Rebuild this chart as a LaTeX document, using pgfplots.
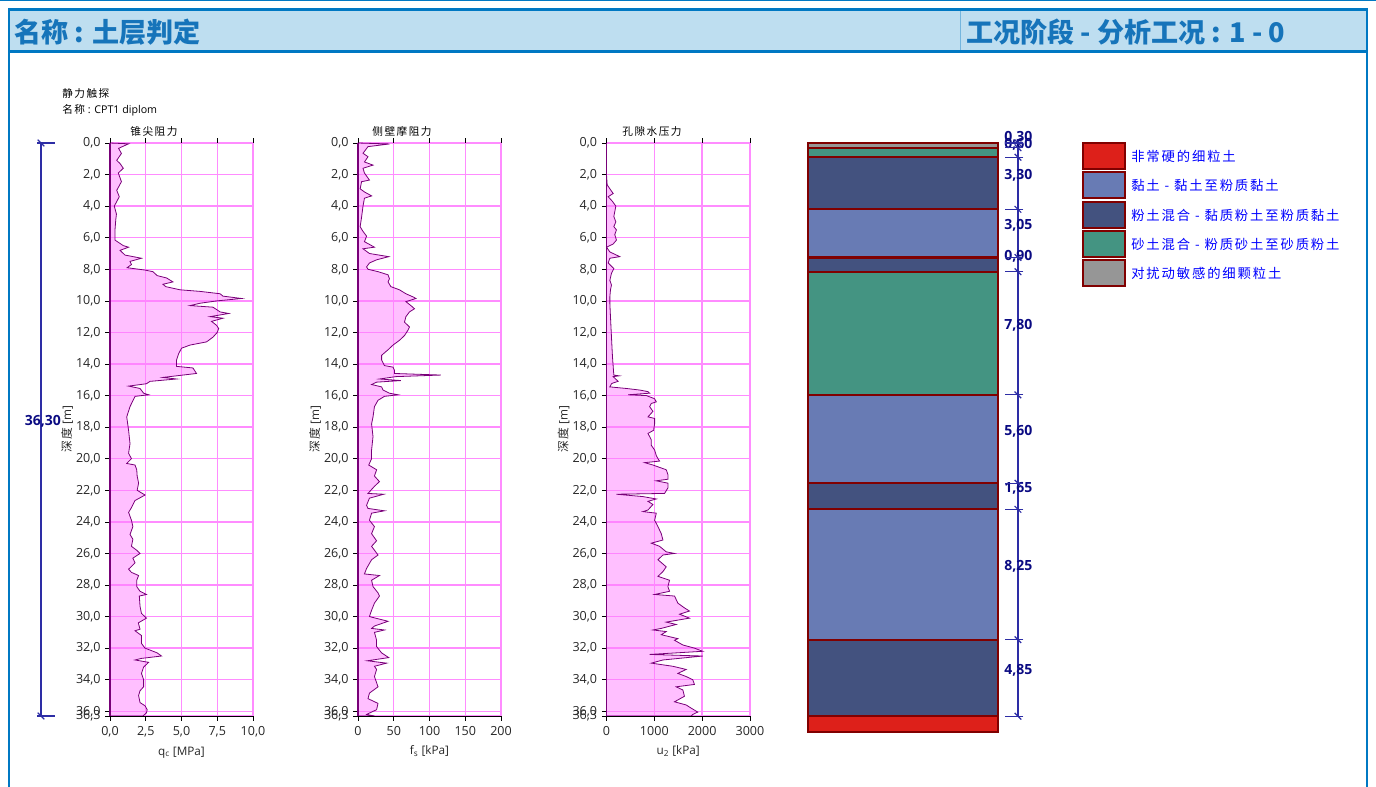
\documentclass[border=0pt]{standalone}
\usepackage{fontspec}
\setmainfont{Open Sans}
\newfontfamily\cjk{Noto Sans CJK SC}
\newfontfamily\cjkls[LetterSpace=14]{Noto Sans CJK SC}
\usepackage{pgfplots}
\pgfplotsset{compat=1.18}
\usepackage{pgfplotstable}

\definecolor{hdrblue}{RGB}{0,120,195}
\definecolor{hdrfill}{RGB}{190,222,240}
\definecolor{hdrtext}{RGB}{22,116,186}
\definecolor{gridpink}{RGB}{255,140,255}
\definecolor{fillmag}{RGB}{255,128,255}
\definecolor{curvecol}{RGB}{120,0,120}
\definecolor{dimnavy}{RGB}{10,10,130}
\definecolor{dimline}{RGB}{45,45,165}
\definecolor{lgray}{RGB}{150,150,150}
\definecolor{lgreen}{RGB}{68,148,130}
\definecolor{ldblue}{RGB}{67,82,127}
\definecolor{lmblue}{RGB}{104,123,180}
\definecolor{lred}{RGB}{221,32,26}
\definecolor{dred}{RGB}{128,0,0}
\definecolor{legblue}{RGB}{0,0,255}

\pgfplotstableread{
v d
0 0
1.3 0.05
0.6 0.34
0.8 0.66
0.47 1.1
0.7 1.3
0.93 1.6
0.58 1.9
0.8 2.45
0.47 3.0
0.65 3.4
0.3 4.0
0.45 4.5
0.4 4.9
0.35 5.5
0.35 6.15
0.93 6.5
1.3 6.6
0.7 6.8
1.05 7.1
2.2 7.3
1.4 7.5
1.5 7.7
1.2 7.9
2.45 8.05
3.0 8.15
3.3 8.4
3.96 8.55
4.4 8.8
3.7 8.95
3.9 9.1
4.9 9.3
6.3 9.4
7.7 9.55
7.9 9.7
9.2 9.85
7.5 10.0
6.3 10.15
5.6 10.3
7.2 10.4
7.7 10.7
8.3 10.8
7.0 11.0
7.9 11.1
7.1 11.3
7.45 11.55
7.6 11.75
7.5 12.0
7.2 12.3
6.75 12.6
5.6 12.8
5.0 13.0
4.8 13.35
4.65 13.75
4.65 14.15
5.8 14.25
6.05 14.6
3.7 14.85
4.65 14.95
2.8 15.1
2.55 15.25
1.3 15.4
2.1 15.55
2.35 15.85
2.7 15.95
1.75 16.05
1.4 16.7
1.17 17.35
1.3 18.2
1.4 19.05
1.3 19.65
1.5 20.0
1.17 20.3
1.75 20.4
1.87 20.7
1.9 21.1
2.0 21.55
1.9 22.0
2.45 22.3
1.75 22.65
1.5 23.1
1.3 23.4
1.5 23.9
1.6 24.3
1.4 24.8
1.6 25.1
1.5 25.55
1.87 25.8
2.1 26.0
1.6 26.3
1.75 26.6
1.3 27.0
1.5 27.2
2.0 27.4
1.87 27.7
1.87 28.1
2.1 28.4
2.55 28.6
2.05 28.7
2.1 29.35
2.2 29.8
2.55 30.1
1.98 30.4
2.1 30.8
1.75 30.9
2.2 31.2
2.2 31.7
2.45 32.0
3.3 32.3
3.6 32.5
2.2 32.65
1.75 32.75
2.7 32.9
2.35 33.2
2.2 33.6
2.35 34.0
2.35 34.45
2.1 34.7
2.0 35.0
2.1 35.45
2.45 35.65
2.6 35.9
2.55 36.1
2.3 36.3
0 36.3
}\qctab

\pgfplotstableread{
v d
0 0
44 0.06
14 0.23
7 0.65
14 0.87
9 1.2
21 1.4
7 1.6
9 1.9
16 2.35
5 2.45
3 2.9
9 3.1
19 3.35
9 3.5
7 4.0
5 4.7
3 5.3
7 5.6
12 5.9
9 6.25
19 6.5
23 6.6
7 6.7
16 7.0
43 7.2
26 7.4
16 7.6
12 7.85
14 8.0
28 8.15
42 8.35
44 8.6
42 8.8
46 9.1
58 9.3
67 9.55
77 9.75
81 9.85
67 10.05
74 10.3
79 10.5
72 10.7
67 11.0
65 11.35
72 11.65
70 11.85
65 12.2
58 12.5
49 12.8
42 13.1
33 13.45
33 13.75
37 14.1
49 14.2
51 14.4
51 14.6
116 14.7
53 14.8
30 14.95
60 15.05
26 15.15
19 15.3
33 15.45
35 15.65
44 15.85
56 15.95
37 16.05
28 16.3
23 16.7
21 17.35
19 17.8
21 18.6
19 19.45
19 20.0
15 20.4
26 20.7
23 21.1
30 21.45
23 21.75
14 22.2
36 22.25
16 22.5
12 22.95
14 23.15
37 23.3
19 23.45
16 23.9
23 24.3
19 24.75
26 25.2
19 25.55
28 26.1
19 26.4
12 26.95
9 27.3
30 27.4
19 27.7
21 28.1
28 28.5
30 28.7
23 29.15
19 29.6
16 30.0
42 30.3
23 30.6
19 30.75
37 30.85
23 31.0
26 31.5
26 31.9
33 32.3
43 32.6
13 32.8
40 32.95
23 33.15
26 33.35
23 33.8
28 34.45
16 34.85
14 35.2
28 35.5
26 35.9
12 36.2
23 36.3
0 36.3
}\fstab

\pgfplotstableread{
v d
0 0
0 2.0
14 2.65
70 2.9
140 3.2
35 3.4
125 3.7
195 4.0
173 4.35
153 4.65
195 5.0
153 5.3
208 5.5
173 5.8
208 6.15
139 6.4
0 6.6
70 6.9
278 7.2
70 7.3
35 7.6
153 7.95
104 8.25
70 8.7
104 9.0
83 9.3
70 9.75
70 10.15
83 11.0
104 12.3
125 13.55
153 14.7
264 14.75
139 14.8
243 15.1
139 15.2
104 15.25
70 15.45
416 15.55
694 15.65
867 15.75
902 15.85
451 15.95
833 16.0
1006 16.2
1041 16.4
937 16.5
902 16.7
971 17.0
867 17.35
1006 17.45
1006 17.8
985 18.2
867 18.4
937 18.8
937 19.15
1006 19.45
1041 19.8
1076 20.0
1110 20.15
798 20.25
971 20.4
1249 20.7
1284 21.0
1284 21.3
1041 21.4
1284 21.55
1284 21.85
1214 22.2
208 22.25
763 22.4
1041 22.55
867 22.7
971 22.9
867 23.25
763 23.35
1041 23.45
1006 23.9
1076 24.3
1145 24.75
1180 25.15
937 25.35
1110 25.55
1249 25.9
1422 26.0
1180 26.1
1076 26.4
1249 26.85
1180 27.15
1076 27.45
1318 27.7
1284 28.1
1318 28.4
1006 28.6
1423 28.7
1492 29.15
1630 29.45
1735 29.65
1527 29.85
1735 30.1
1249 30.35
1457 30.5
1145 30.75
971 30.85
1249 30.95
1145 31.15
1492 31.4
1422 31.5
1596 31.8
1839 32.0
2012 32.2
902 32.4
2012 32.5
1180 32.75
937 32.95
1388 33.15
1666 33.35
1492 33.6
1666 33.8
1804 34.0
1839 34.3
1457 34.45
1596 34.65
1630 35.05
1422 35.4
1666 35.6
1770 35.8
1908 36.05
1804 36.2
1770 36.3
0 36.3
}\utab

\pgfplotsset{
  cpt/.style={
    scale only axis, width=107.25pt, height=429.75pt,
    y dir=reverse, ymin=0, ymax=36.3,
    ytick={0,2,...,36,36.3},
    grid=major,
    grid style={draw=gridpink, line width=1pt},
    major grid style={draw=gridpink, line width=1pt},
    axis line style={draw=none},
    major tick style={draw=black, line width=0.5pt}, major tick length=3.5pt, tick align=outside,
    ytick pos=left,
    tick label style={font=\fontsize{9.4}{11}\selectfont, text=black!85},
    label style={font=\fontsize{8.8}{10}\selectfont, text=black!85},
    xticklabel style={yshift=-1pt},
    xlabel style={yshift=-0.5pt},
    ylabel style={yshift=-4.5pt},
    /pgf/number format/assume math mode=true,
    yticklabel style={/pgf/number format/.cd, use comma, fixed, fixed zerofill, precision=1},
    scaled x ticks=false,
    ylabel={{\cjkls 深度} [m]},
    clip=false,
  },
  prof/.style={draw=curvecol, line width=0.6pt, fill=fillmag, fill opacity=0.5, draw opacity=1},
}

\begin{document}
\begin{tikzpicture}
\useasboundingbox (0,0) rectangle (1032pt,-590.25pt);
\begin{scope}[x=0.75pt,y=-0.75pt]
% header
\fill[hdrfill] (9,10) rectangle (1367,51);
\draw[hdrblue, line width=0.75pt] (0,0.5) -- (1376,0.5);
\draw[hdrblue, line width=2.2pt] (8,9.5) -- (1368,9.5);
\draw[hdrblue, line width=2.2pt] (8,51.5) -- (1368,51.5);
\draw[hdrblue, line width=2.2pt] (9,8) -- (9,787);
\draw[hdrblue, line width=2.2pt] (1367,8) -- (1367,787);
\draw[hdrblue!55, line width=0.75pt] (960,11) -- (960,50);
\node[anchor=west, text=hdrtext, font=\cjk\bfseries\fontsize{20.3}{23}\selectfont, inner sep=0pt] at (14,32) {名称 : 土层判定};
\node[anchor=west, text=hdrtext, font=\cjk\bfseries\fontsize{20.3}{23}\selectfont, inner sep=0pt] at (966,32) {工况阶段 - 分析工况 : 1 - 0};
% top-left texts
\node[anchor=west, inner sep=0pt, font=\cjkls\fontsize{8}{9}\selectfont] at (62,93) {静力触探};
\node[anchor=west, inner sep=0pt, font=\fontsize{8}{9}\selectfont] at (62,110) {{\cjkls 名称} : CPT1 diplom};
\node[inner sep=0pt, font=\cjkls\fontsize{8}{9}\selectfont] at (154,131) {锥尖阻力};
\node[inner sep=0pt, font=\cjkls\fontsize{8}{9}\selectfont] at (402,131) {侧壁摩阻力};
\node[inner sep=0pt, font=\cjkls\fontsize{8}{9}\selectfont] at (652,131) {孔隙水压力};
% legend
\foreach \yy/\col/\txt in {143/lred/{非常硬的细粒土}, 172/lmblue/{黏土 - 黏土至粉质黏土}, 202/ldblue/{粉土混合 - 黏质粉土至粉质黏土}, 231/lgreen/{砂土混合 - 粉质砂土至砂质粉土}, 260/lgray/{对扰动敏感的细颗粒土}}{
  \filldraw[fill=\col, draw=dred, line width=0.9pt] (1083,\yy) rectangle (1125,\yy+26);
  \node[anchor=west, inner sep=0pt, text=legblue, font=\cjkls\fontsize{10}{12}\selectfont] at (1131,\yy+13) {\txt};
}
\end{scope}

% ---- qc
\begin{axis}[cpt, at={(82.5pt,-537pt)}, anchor=south west,
  xmin=0, xmax=10, xtick={0,2.5,5,7.5,10},
  xticklabel style={/pgf/number format/.cd, use comma, fixed, fixed zerofill, precision=1},
  xlabel={q\textsubscript{c} [MPa]}]
\addplot[prof] table[x=v,y=d]{\qctab} -- cycle;
\draw[curvecol, line width=1.4pt] (axis cs:0,0) -- (axis cs:0,36.3);
\draw[black, line width=0.6pt] (axis cs:0,36.3) -- (axis cs:10,36.3);
% overall depth dimension
\addplot[dimline, line width=0.9pt] coordinates {(-4.825,0) (-4.825,36.3)};
\addplot[dimline, only marks, mark=-, mark size=6.75pt, mark options={line width=0.9pt}] coordinates {(-4.476,0) (-4.476,36.3)};
\addplot[dimline, only marks, mark=|, mark size=3.5pt, mark options={rotate=45, line width=0.9pt}] coordinates {(-4.825,0) (-4.825,36.3)};
\node[text=dimnavy, font=\bfseries\fontsize{10.5}{12}\selectfont, yshift=6pt, inner sep=0pt] at (axis cs:-4.7,18.15) {36,30};
\end{axis}

% ---- fs
\begin{axis}[cpt, at={(268.5pt,-537pt)}, anchor=south west,
  xmin=0, xmax=200, xtick={0,50,100,150,200},
  xlabel={f\textsubscript{s} [kPa]}]
\addplot[prof] table[x=v,y=d]{\fstab} -- cycle;
\draw[curvecol, line width=1.4pt] (axis cs:0,0) -- (axis cs:0,36.3);
\draw[black, line width=0.6pt] (axis cs:0,36.3) -- (axis cs:200,36.3);
\end{axis}

% ---- u2
\begin{axis}[cpt, at={(454.875pt,-537pt)}, anchor=south west, width=107.6pt,
  xmin=0, xmax=3000, xtick={0,1000,2000,3000},
  xticklabel style={/pgf/number format/1000 sep={}},
  xlabel={u\textsubscript{2} [kPa]}]
\addplot[prof] table[x=v,y=d]{\utab} -- cycle;
\draw[curvecol, line width=1.4pt] (axis cs:0,0) -- (axis cs:0,36.3);
\draw[black, line width=0.6pt] (axis cs:0,36.3) -- (axis cs:3000,36.3);
\end{axis}

% ---- soil column
\begin{axis}[scale only axis, at={(606pt,-549pt)}, anchor=south west,
  width=142.5pt, height=441.75pt, xmin=0, xmax=1, ymin=0, ymax=37.3,
  y dir=reverse, hide axis, clip=false]
\pgfplotsset{lay/.style={draw=dred, line width=1.6pt}}
\addplot[lay, fill=lgray]  coordinates {(0,0) (1,0) (1,0.3) (0,0.3)} -- cycle;
\addplot[lay, fill=lgreen] coordinates {(0,0.3) (1,0.3) (1,0.9) (0,0.9)} -- cycle;
\addplot[lay, fill=ldblue] coordinates {(0,0.9) (1,0.9) (1,4.2) (0,4.2)} -- cycle;
\addplot[lay, fill=lmblue] coordinates {(0,4.2) (1,4.2) (1,7.25) (0,7.25)} -- cycle;
\addplot[lay, fill=ldblue] coordinates {(0,7.25) (1,7.25) (1,8.15) (0,8.15)} -- cycle;
\addplot[lay, fill=lgreen] coordinates {(0,8.15) (1,8.15) (1,15.95) (0,15.95)} -- cycle;
\addplot[lay, fill=lmblue] coordinates {(0,15.95) (1,15.95) (1,21.55) (0,21.55)} -- cycle;
\addplot[lay, fill=ldblue] coordinates {(0,21.55) (1,21.55) (1,23.2) (0,23.2)} -- cycle;
\addplot[lay, fill=lmblue] coordinates {(0,23.2) (1,23.2) (1,31.45) (0,31.45)} -- cycle;
\addplot[lay, fill=ldblue] coordinates {(0,31.45) (1,31.45) (1,36.3) (0,36.3)} -- cycle;
\addplot[lay, fill=lred]   coordinates {(0,36.3) (1,36.3) (1,37.3) (0,37.3)} -- cycle;
% dimension line
\addplot[dimline, line width=0.9pt] coordinates {(1.105,0) (1.105,36.3)};
\addplot[dimline, only marks, mark=-, mark size=7pt, mark options={line width=0.9pt}]
  coordinates {(1.084,0) (1.084,0.3) (1.084,0.9) (1.084,4.2) (1.084,7.25) (1.084,8.15) (1.084,15.95) (1.084,21.55) (1.084,23.2) (1.084,31.45) (1.084,36.3)};
\addplot[dimline, only marks, mark=|, mark size=3.5pt, mark options={rotate=45, line width=0.9pt}]
  coordinates {(1.105,0) (1.105,0.3) (1.105,0.9) (1.105,4.2) (1.105,7.25) (1.105,8.15) (1.105,15.95) (1.105,21.55) (1.105,23.2) (1.105,31.45) (1.105,36.3)};
\foreach \c/\t in {0.15/{0,30}, 0.6/{0,60}, 2.55/{3,30}, 5.725/{3,05}, 7.7/{0,90}, 12.05/{7,80}, 18.75/{5,60}, 22.375/{1,65}, 27.325/{8,25}, 33.875/{4,85}}{
  \edef\temp{\noexpand\node[anchor=west, text=dimnavy, font=\noexpand\bfseries\noexpand\fontsize{10.5}{12}\noexpand\selectfont, yshift=6pt, inner sep=0pt] at (axis cs:1.032,\c) {\t};}
  \temp
}
\end{axis}
\end{tikzpicture}
\end{document}
